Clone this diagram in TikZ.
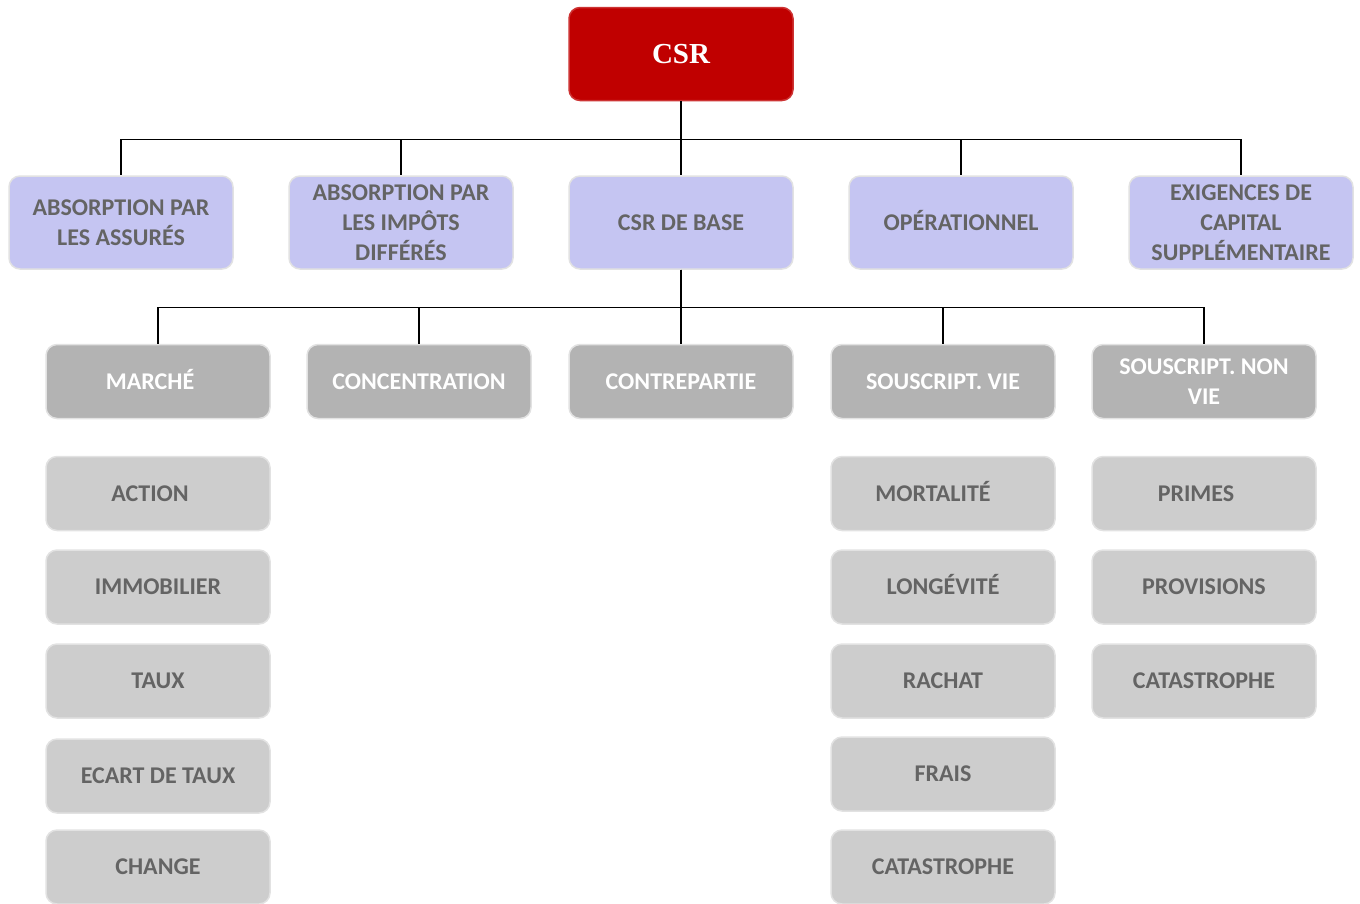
\documentclass[tikz,border=0pt]{standalone}
\usepackage{fontspec}
\newfontfamily\boxfont{Carlito}
\newfontfamily\csrfont{Liberation Serif}
\definecolor{csrred}{HTML}{C00000}
\definecolor{lav}{HTML}{C5C5F2}
\definecolor{dgray}{HTML}{B3B3B3}
\definecolor{lgray}{HTML}{CDCDCD}
\definecolor{tgray}{HTML}{646464}
\definecolor{edge}{HTML}{E2E2E2}
\newcommand{\txtleft}{\kern-16pt}
\begin{document}
\begin{tikzpicture}[x=1pt,y=-1pt,
  base/.style={rounded corners=11pt, draw=edge, line width=1.5pt, inner sep=0pt,
    minimum width=224pt, align=center, font=\boxfont\bfseries\fontsize{24}{30}\selectfont},
  topbox/.style={base, fill=csrred, draw=csrred!80!white, minimum height=93pt, text=white,
    font=\csrfont\bfseries\fontsize{29}{30}\selectfont},
  lavbox/.style={base, fill=lav, minimum height=93pt, text=tgray},
  catbox/.style={base, fill=dgray, minimum height=74pt, text=white},
  subbox/.style={base, fill=lgray, minimum height=74pt, text=tgray},
  capfix/.style={text height=15.5pt, text depth=0pt},
  conn/.style={draw=black, line width=1.4pt}]
\useasboundingbox (0,0) rectangle (1360,903);
\node[topbox] (csr) at (681,54) {CSR};
% row 1
\node[lavbox] (a1) at (121,222.5) {ABSORPTION PAR\\LES ASSURÉS};
\node[lavbox] (a2) at (401,222.5) {ABSORPTION PAR\\LES IMPÔTS\\DIFFÉRÉS};
\node[lavbox] (a3) at (681,222.5) {CSR DE BASE};
\node[lavbox, capfix] (a4) at (961,222.5) {OPÉRATIONNEL};
\node[lavbox] (a5) at (1241,222.5) {EXIGENCES DE\\CAPITAL\\SUPPLÉMENTAIRE};
% row 2
\node[catbox, capfix] (b1) at (158,381.5) {\txtleft MARCHÉ};
\node[catbox] (b2) at (419,381.5) {CONCENTRATION};
\node[catbox] (b3) at (681,381.5) {CONTREPARTIE};
\node[catbox] (b4) at (943,381.5) {SOUSCRIPT. VIE};
\node[catbox] (b5) at (1204,381.5) {SOUSCRIPT. NON\\VIE};
% sub boxes
\node[subbox] (m1) at (158,493.5) {\txtleft ACTION};
\node[subbox] (m2) at (158,587) {IMMOBILIER};
\node[subbox] (m3) at (158,681) {TAUX};
\node[subbox] (m4) at (158,776) {ECART DE TAUX};
\node[subbox] (m5) at (158,867) {CHANGE};
\node[subbox, capfix] (v1) at (943,493.5) {\txtleft\kern-4pt MORTALITÉ};
\node[subbox, capfix] (v2) at (943,587) {LONGÉVITÉ};
\node[subbox] (v3) at (943,681) {RACHAT};
\node[subbox] (v4) at (943,774) {FRAIS};
\node[subbox] (v5) at (943,867) {CATASTROPHE};
\node[subbox] (n1) at (1204,493.5) {\txtleft PRIMES};
\node[subbox] (n2) at (1204,587) {PROVISIONS};
\node[subbox] (n3) at (1204,681) {CATASTROPHE};
% connectors
\foreach \c in {a1,a2,a3,a4,a5}
  \draw[conn] (csr.south) -- ++(0,38.5) -| (\c.north);
\foreach \c in {b1,b2,b3,b4,b5}
  \draw[conn] (a3.south) -- ++(0,38) -| (\c.north);
\end{tikzpicture}
\end{document}
